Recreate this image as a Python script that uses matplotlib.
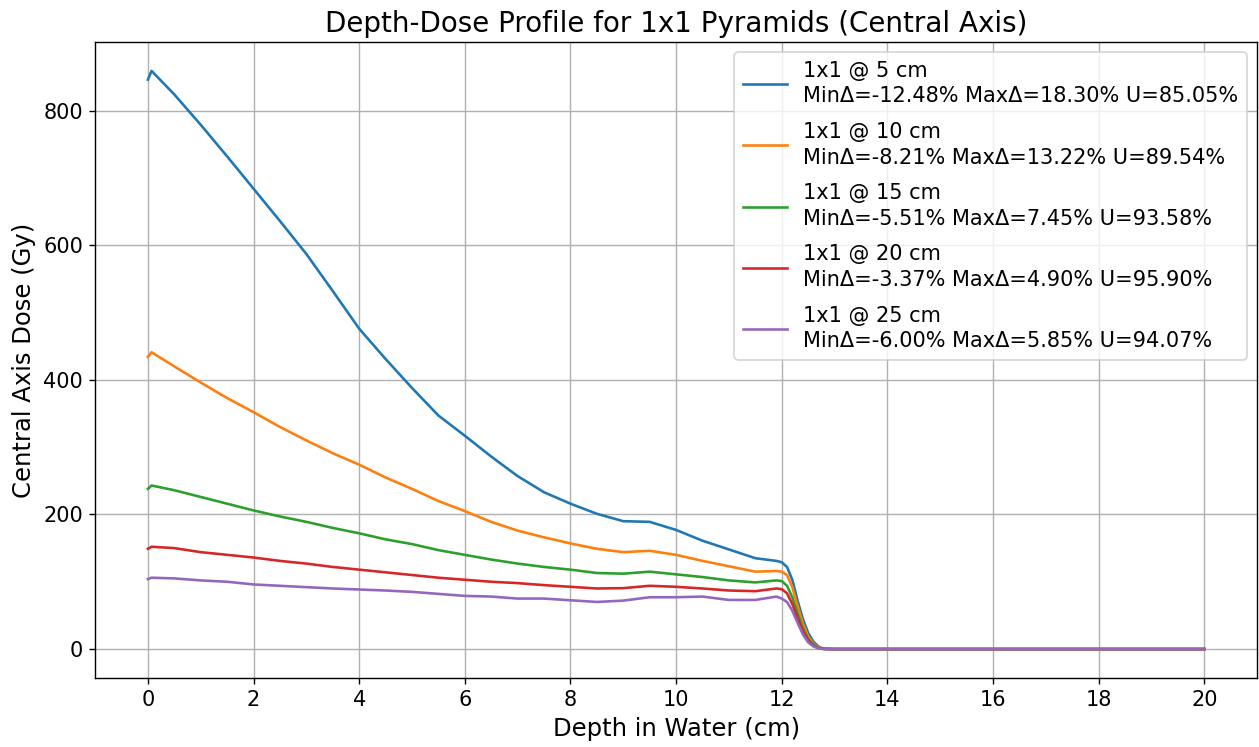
import matplotlib
matplotlib.use("Agg")
import matplotlib.pyplot as plt

# depth along central axis (cm)
depth = [0.0, 0.07, 0.5, 1.0, 1.5, 2.0, 2.5, 3.0, 3.5, 4.0, 4.5, 5.0, 5.5, 6.0,
         6.5, 7.0, 7.5, 8.0, 8.5, 9.0, 9.5, 10.0, 10.5, 11.0, 11.5, 11.9, 12.0,
         12.1, 12.2, 12.3, 12.4, 12.5, 12.6, 12.7, 12.8, 13.0, 20.0]

# central axis dose (Gy) for each pyramid height
dose_5cm = [846, 859, 824, 779, 732, 684, 636, 587, 532, 476, 431, 388, 347, 317,
            286, 257, 233, 216, 201, 190, 189, 177, 161, 148, 135, 131, 129,
            122, 103, 72, 45, 24, 11, 3.5, 0.5, 0, 0]
dose_10cm = [434, 441, 420, 396, 373, 352, 330, 310, 291, 274, 255, 238, 220, 205,
             189, 176, 166, 157, 149, 144, 146, 140, 131, 123, 115, 116, 115,
             110, 92, 64, 38, 19, 8, 2.5, 0.3, 0, 0]
dose_15cm = [238, 243, 236, 226, 216, 206, 197, 189, 180, 172, 163, 156, 147, 140,
             133, 127, 122, 118, 113, 112, 115, 111, 107, 102, 99, 102, 101,
             94, 77, 53, 31, 15, 6, 1.5, 0.2, 0, 0]
dose_20cm = [149, 152, 150, 144, 140, 136, 131, 127, 122, 118, 114, 110, 106, 103,
             100, 98, 95, 92.5, 90, 90.5, 94, 92.5, 90, 87, 86, 90, 89,
             83, 67, 46, 27, 13, 5, 1.3, 0.2, 0, 0]
dose_25cm = [104, 106, 105, 102, 100, 96, 94, 92, 90, 88.5, 87, 85, 82, 79,
             78, 75, 75, 72.5, 70, 72, 77, 77, 78, 73, 73, 78, 75,
             70, 57, 39, 22, 10, 4, 1, 0.1, 0, 0]

labels = [
    "1x1 @ 5 cm\nMinΔ=-12.48% MaxΔ=18.30% U=85.05%",
    "1x1 @ 10 cm\nMinΔ=-8.21% MaxΔ=13.22% U=89.54%",
    "1x1 @ 15 cm\nMinΔ=-5.51% MaxΔ=7.45% U=93.58%",
    "1x1 @ 20 cm\nMinΔ=-3.37% MaxΔ=4.90% U=95.90%",
    "1x1 @ 25 cm\nMinΔ=-6.00% MaxΔ=5.85% U=94.07%",
]
doses = [dose_5cm, dose_10cm, dose_15cm, dose_20cm, dose_25cm]

fig, ax = plt.subplots(figsize=(10.072, 5.976), dpi=125)
for d, lab in zip(doses, labels):
    ax.plot(depth, d, label=lab)

ax.set_xticks(range(0, 21, 2))
ax.tick_params(labelsize=12)
ax.set_title("Depth-Dose Profile for 1x1 Pyramids (Central Axis)", fontsize=16)
ax.set_xlabel("Depth in Water (cm)", fontsize=14)
ax.set_ylabel("Central Axis Dose (Gy)", fontsize=14)
ax.grid(True)
leg = ax.legend(loc="upper right", fontsize=12, labelspacing=0.75, handlelength=2.1)
for t in leg.get_texts():
    t.set_linespacing(1.35)

plt.subplots_adjust(left=0.0755, right=0.9985, top=0.9438, bottom=0.0924)
plt.savefig("out.png", dpi=125)
